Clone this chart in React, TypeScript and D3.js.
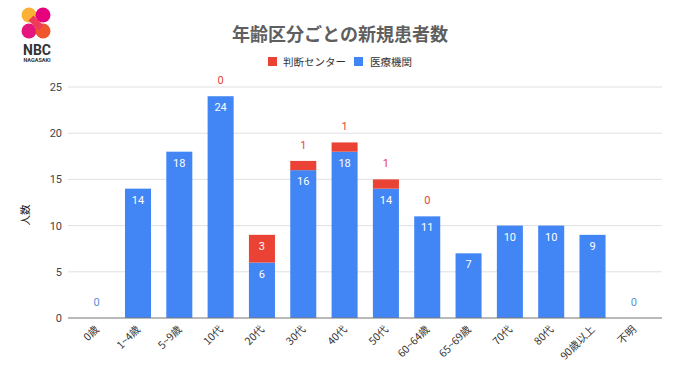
import React from "react";
import * as d3 from "d3";

const categories = ["0歳", "1~4歳", "5~9歳", "10代", "20代", "30代", "40代", "50代", "60~64歳", "65~69歳", "70代", "80代", "90歳以上", "不明"];
const iryoKikan = [0, 14, 18, 24, 6, 16, 18, 14, 11, 7, 10, 10, 9, 0];
const handanCenter = [0, 0, 0, 0, 3, 1, 1, 1, 0, 0, 0, 0, 0, 0];
// which red labels are shown (as in the reference)
const redLabelShown = [false, false, false, true, true, true, true, true, true, false, false, false, false, false];
const yTicks = [0, 5, 10, 15, 20, 25];

const BLUE = "#4285F4";
const RED = "#EA4335";
const FONT = "'Noto Sans CJK JP', 'Noto Sans', sans-serif";

export default function App() {
  const W = 680, H = 382;
  const x = d3.scaleBand<string>().domain(categories).range([76, 654.5]).paddingInner(0.37).paddingOuter(0.185);
  const y = d3.scaleLinear().domain([0, 25]).range([318, 87]);
  const bw = x.bandwidth();

  return (
    <svg width={W} height={H} style={{ position: "absolute", left: 0, top: 0, background: "#fff" }} fontFamily={FONT}>
      {/* logo */}
      <g>
        <circle cx={29} cy={15} r={7.5} fill="#F9B233" />
        <circle cx={43} cy={15} r={7.5} fill="#E6007E" />
        <circle cx={29} cy={31} r={7.5} fill="#E5177E" />
        <circle cx={43} cy={31} r={7.5} fill="#F0562B" />
        <path d="M31,18 L41,28" stroke="#EE3B5A" strokeWidth={7} />
        <text x={37} y={55} textAnchor="middle" fontSize={14} fontWeight={700} fill="#333" fontFamily="'Roboto', 'DejaVu Sans', sans-serif">NBC</text>
        <text x={37} y={62} textAnchor="middle" fontSize={5.5} fontWeight={700} fill="#333" fontFamily="'Roboto', sans-serif">NAGASAKI</text>
      </g>

      {/* title */}
      <text x={340} y={41} textAnchor="middle" fontSize={18} fontWeight={700} fill="#5f5f5f">年齢区分ごとの新規患者数</text>

      {/* legend */}
      <rect x={268} y={57} width={9} height={9} fill={RED} />
      <text x={283} y={65.5} fontSize={10.5} fill="#333">判断センター</text>
      <rect x={354} y={57} width={9} height={9} fill={BLUE} />
      <text x={370} y={65.5} fontSize={10.5} fill="#333">医療機関</text>

      {/* grid */}
      {yTicks.map((t) => (
        <g key={t}>
          {t !== 0 && <line x1={68} x2={662} y1={y(t)} y2={y(t)} stroke="#e0e0e0" strokeWidth={1} />}
          <text x={62} y={y(t) + 4} textAnchor="end" fontSize={11} fill="#444" fontFamily="'Roboto', sans-serif">{t}</text>
        </g>
      ))}

      {/* y title */}
      <text transform={`translate(29,215) rotate(-90)`} textAnchor="middle" fontSize={10.5} fill="#222">人数</text>

      {/* bars */}
      {categories.map((c, i) => {
        const bx = x(c)!;
        const b = iryoKikan[i];
        const r = handanCenter[i];
        const cx = bx + bw / 2;
        return (
          <g key={c}>
            {b > 0 && <rect x={bx} y={y(b)} width={bw} height={y(0) - y(b)} fill={BLUE} />}
            {r > 0 && <rect x={bx} y={y(b + r)} width={bw} height={y(b) - y(b + r)} fill={RED} />}
            {b > 0 ? (
              <text x={cx} y={y(b) + 15} textAnchor="middle" fontSize={11} fill="#fff" fontFamily="'Roboto', sans-serif">{b}</text>
            ) : (
              <text x={cx} y={y(0) - 12} textAnchor="middle" fontSize={11} fill="#5b8fd8" fontFamily="'Roboto', sans-serif">{b}</text>
            )}
            {redLabelShown[i] && (r > 0 && r >= 2 ? (
              <text x={cx} y={y(b + r) + 15} textAnchor="middle" fontSize={11} fill="#fff" fontFamily="'Roboto', sans-serif">{r}</text>
            ) : (
              <text x={cx} y={y(b + r) - 12} textAnchor="middle" fontSize={11} fill={RED} fontFamily="'Roboto', sans-serif">{r}</text>
            ))}
            <text transform={`translate(${cx + 3},${330}) rotate(-45)`} textAnchor="end" fontSize={10.5} fill="#333">{c}</text>
          </g>
        );
      })}

      {/* baseline */}
      <line x1={68} x2={662} y1={y(0)} y2={y(0)} stroke="#777" strokeWidth={1.2} />
    </svg>
  );
}
